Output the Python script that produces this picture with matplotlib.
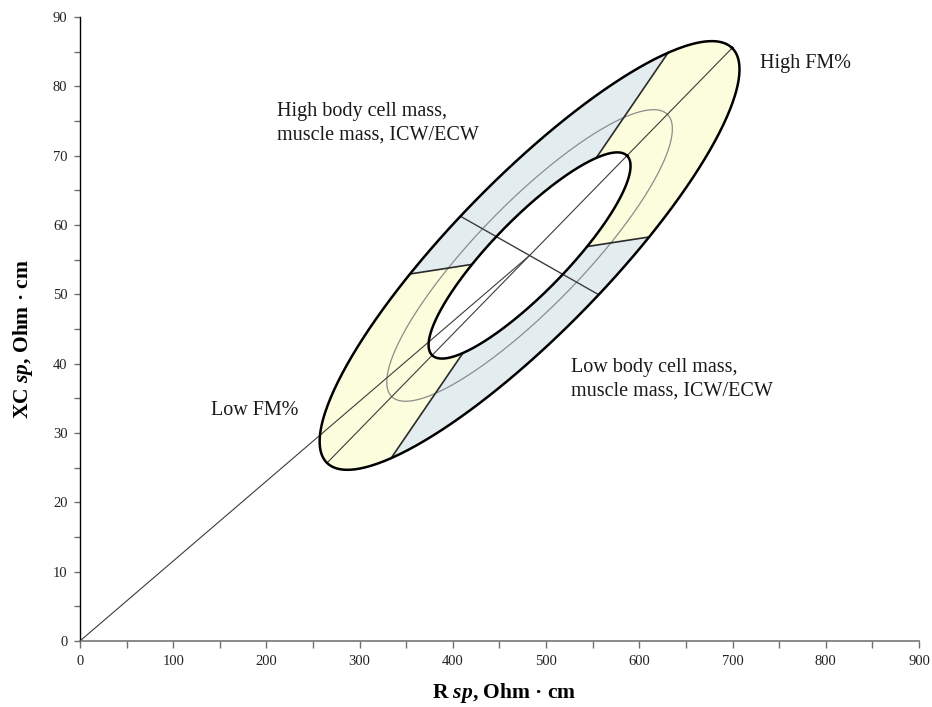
import numpy as np
import matplotlib
matplotlib.use('Agg')
import matplotlib.pyplot as plt
from matplotlib.ticker import MultipleLocator

plt.rcParams['font.family'] = ['Liberation Serif', 'DejaVu Serif']
plt.rcParams['mathtext.fontset'] = 'custom'
plt.rcParams['mathtext.rm'] = 'Liberation Serif:bold'
plt.rcParams['mathtext.it'] = 'Liberation Serif:italic:bold'

# reference population for the RXc graph (specific R and Xc)
mean_r = 482.3
mean_xc = 55.6
sd_r = 92.0
sd_xc = 12.63
corr = 0.868

# tolerance ellipses: 50 %, 75 %, 95 %
levels = [0.50, 0.75, 0.95]

# sector borders and minor axis, angle in the standardized ellipse frame (deg)
border_a = -33.5
border_b = 70.5
minor_angle = 86

x_max = 900
y_max = 90

yellow = '#fbfddc'
blue = '#e3edf0'

fig = plt.figure(figsize=(9.32, 7.07), dpi=100)
ax = fig.add_axes([0.0858, 0.0934, 0.9002, 0.8826])
ax.set_xlim(0, x_max)
ax.set_ylim(0, y_max)

# work out the ellipse axes as they appear on screen
p0 = ax.transData.transform((0, 0))
sx = ax.transData.transform((1, 0))[0] - p0[0]
sy = ax.transData.transform((0, 1))[1] - p0[1]
cov = np.array([[sd_r ** 2, corr * sd_r * sd_xc],
                [corr * sd_r * sd_xc, sd_xc ** 2]])
S = np.diag([sx, sy])
vals, vecs = np.linalg.eigh(S @ cov @ S)
e1 = vecs[:, 1]
if e1[0] < 0:
    e1 = -e1
e2 = np.array([e1[1], -e1[0]])
a1 = np.sqrt(vals[1])
b1 = np.sqrt(vals[0])


def ellipse_pts(level, t_deg):
    k = np.sqrt(-2 * np.log(1 - level))
    t = np.radians(np.atleast_1d(t_deg))
    off = k * (a1 * np.cos(t)[:, None] * e1 + b1 * np.sin(t)[:, None] * e2)
    return mean_r + off[:, 0] / sx, mean_xc + off[:, 1] / sy


def sector(t1, t2, color):
    t = np.linspace(t1, t2, 200)
    xo, yo = ellipse_pts(levels[2], t)
    xi, yi = ellipse_pts(levels[0], t[::-1])
    ax.fill(np.r_[xo, xi], np.r_[yo, yi], color=color, lw=0, zorder=1)


sector(border_a, border_b, yellow)
sector(border_a + 180, border_b + 180, yellow)
sector(border_b, border_a + 180, blue)
sector(border_b + 180, border_a + 360, blue)

full = np.linspace(0, 360, 400)
xi, yi = ellipse_pts(levels[0], full)
ax.fill(xi, yi, color='white', lw=0, zorder=2)

# 75 % ellipse
xm, ym = ellipse_pts(levels[1], full)
ax.plot(xm, ym, color='#8c8c8c', lw=0.9, zorder=3)

# line from the origin to the mean vector
ax.plot([0, mean_r], [0, mean_xc], color='#3c3c3c', lw=0.8, zorder=4)

# major and minor axes
mx, my = ellipse_pts(levels[2], [0, 180])
ax.plot(mx, my, color='#3c3c3c', lw=0.8, zorder=4)
nx, ny = ellipse_pts(levels[2], [minor_angle, minor_angle + 180])
ax.plot(nx, ny, color='#3c3c3c', lw=1.0, zorder=4)

# sector borders
for ang in [border_a, border_b, border_a + 180, border_b + 180]:
    bx_o, by_o = ellipse_pts(levels[2], ang)
    bx_i, by_i = ellipse_pts(levels[0], ang)
    ax.plot([bx_i[0], bx_o[0]], [by_i[0], by_o[0]], color='#2a2a2a', lw=1.2, zorder=5)

# outer and inner ellipse edges
xo, yo = ellipse_pts(levels[2], full)
ax.plot(xo, yo, color='black', lw=1.8, zorder=6)
ax.plot(xi, yi, color='black', lw=1.8, zorder=6)

# labels of the quadrants
txt_kw = dict(fontsize=14.5, color='#1a1a1a', ha='left', va='center', linespacing=1.3)
ax.text(730, 83.3, 'High FM%', **txt_kw)
ax.text(211, 74.7, 'High body cell mass,\nmuscle mass, ICW/ECW', **txt_kw)
ax.text(527, 37.7, 'Low body cell mass,\nmuscle mass, ICW/ECW', **txt_kw)
ax.text(141, 33.2, 'Low FM%', **txt_kw)

# axes
ax.spines['top'].set_visible(False)
ax.spines['right'].set_visible(False)
ax.spines['left'].set_color('black')
ax.spines['left'].set_linewidth(1.0)
ax.spines['bottom'].set_color('#808080')
ax.spines['bottom'].set_linewidth(1.3)

ax.xaxis.set_major_locator(MultipleLocator(100))
ax.xaxis.set_minor_locator(MultipleLocator(50))
ax.yaxis.set_major_locator(MultipleLocator(10))
ax.yaxis.set_minor_locator(MultipleLocator(5))
ax.tick_params(axis='x', which='both', direction='out', length=5, width=1.0,
               color='#707070', labelsize=10.5, labelcolor='#222222', pad=5)
ax.tick_params(axis='y', which='both', direction='out', length=4, width=1.0,
               color='#707070', labelsize=10.5, labelcolor='#222222', pad=5)

fig.text(504 / 932, 1 - 693 / 707, 'R $sp$, Ohm · cm', fontsize=15.5,
         fontweight='bold', ha='center', va='center')
fig.text(23 / 932, 1 - 339 / 707, 'XC $sp$, Ohm · cm', fontsize=15.5,
         fontweight='bold', ha='center', va='center', rotation=90)

fig.savefig('out.png', dpi=100)
